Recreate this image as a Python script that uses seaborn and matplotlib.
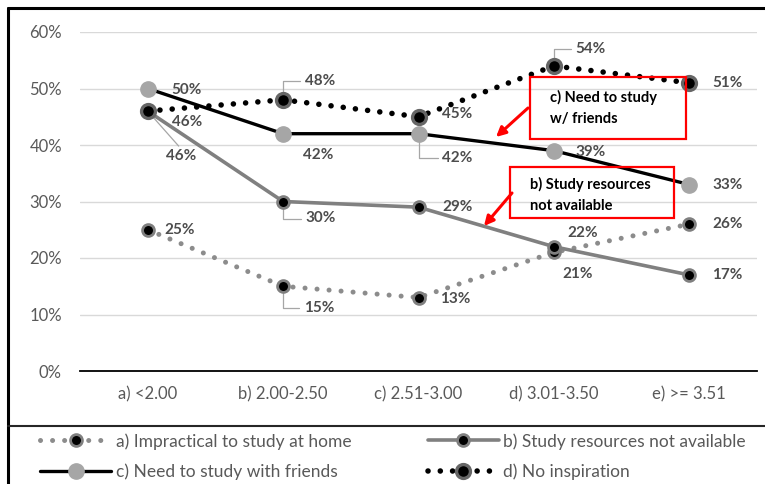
import matplotlib
matplotlib.use("Agg")
import matplotlib.pyplot as plt
from matplotlib.lines import Line2D
from matplotlib.patches import Rectangle
import seaborn as sns
import pandas as pd

# ---- data ----
categories = ["a) <2.00", "b) 2.00-2.50", "c) 2.51-3.00", "d) 3.01-3.50", "e) >= 3.51"]
impractical = [0.25, 0.15, 0.13, 0.21, 0.26]
resources = [0.46, 0.30, 0.29, 0.22, 0.17]
friends = [0.50, 0.42, 0.42, 0.39, 0.33]
inspiration = [0.46, 0.48, 0.45, 0.54, 0.51]
series_names = ["a) Impractical to study at home", "b) Study resources not available",
                "c) Need to study with friends", "d) No inspiration"]
yticks = [0.0, 0.1, 0.2, 0.3, 0.4, 0.5, 0.6]

sns.set_theme(style="white")
plt.rcParams["font.family"] = ["Lato", "DejaVu Sans"]

W, H = 765, 484
fig = plt.figure(figsize=(W / 100, H / 100), dpi=100)
ax = fig.add_axes([80 / W, 1 - 371 / H, (757 - 80) / W, (371 - 32) / H])

x = list(range(len(categories)))
TXT = "#595959"
LBL = "#4d4d4d"

styles = {
    series_names[0]: dict(color="#8c8c8c", lw=3.6, ls=(0, (0.01, 2.4)), mfc="black", mec="#7f7f7f",
                          ms=8.5, mew=2.0),
    series_names[1]: dict(color="#808080", lw=2.6, ls="-", mfc="black", mec="#7f7f7f", ms=8.5, mew=2.0),
    series_names[2]: dict(color="black", lw=2.4, ls="-", mfc="#a6a6a6", mec="#a6a6a6", ms=11, mew=1),
    series_names[3]: dict(color="black", lw=4.0, ls=(0, (0.01, 2.2)), mfc="black", mec="#666666",
                          ms=10, mew=2.4),
}
values = {series_names[0]: impractical, series_names[1]: resources,
          series_names[2]: friends, series_names[3]: inspiration}

order = [series_names[0], series_names[1], series_names[3], series_names[2]]
for name in order:
    st = styles[name]
    df = pd.DataFrame({"x": x, "y": values[name]})
    sns.lineplot(data=df, x="x", y="y", ax=ax, color=st["color"], lw=st["lw"], zorder=3)
    line = ax.lines[-1]
    line.set_linestyle(st["ls"])
    line.set_dash_capstyle("round")
    line.set_solid_capstyle("round")
    ax.plot(x, values[name], ls="none", marker="o", ms=st["ms"], mfc=st["mfc"], mec=st["mec"],
            mew=st["mew"], zorder=4)

# data labels: (dx, dy) offsets in pixels, leader flag
label_pos = {
    series_names[0]: [(32, 0, None), (36, -22, "down"), (37, -1, None), (24, -22, None), (38, 0, None)],
    series_names[1]: [(33, -45, "diag"), (38, -17, "down"), (39, 0, None), (29, 14, None), (38, 0, None)],
    series_names[2]: [(39, -1, None), (35, -21, None), (39, -24, "down"), (37, -1, None), (38, 0, None)],
    series_names[3]: [(39, -11, None), (37, 19, "up"), (39, 3, None), (37, 17, "up"), (38, 0, None)],
}
for name in series_names:
    for xi, v, (dx, dy, lead) in zip(x, values[name], label_pos[name]):
        ax.annotate(f"{round(v * 100):d}%", xy=(xi, v), xytext=(dx, dy), textcoords="offset pixels",
                    ha="center", va="center", fontsize=11, fontweight="bold", color=LBL, zorder=6)
        if lead in ("down", "up"):
            ax.annotate("", xy=(xi, v), xytext=(dx - 20, dy), textcoords="offset pixels",
                        arrowprops=dict(arrowstyle="-", color="#a6a6a6", lw=0.9, shrinkA=0, shrinkB=5,
                                        connectionstyle="angle,angleA=0,angleB=90,rad=0"), zorder=2)
        elif lead == "diag":
            ax.annotate("", xy=(xi, v), xytext=(dx - 2, dy + 10), textcoords="offset pixels",
                        arrowprops=dict(arrowstyle="-", color="#a6a6a6", lw=0.9, shrinkA=0, shrinkB=4),
                        zorder=2)

ax.set_xlim(-0.5, len(categories) - 0.5)
ax.set_ylim(0, 0.6)
ax.set_yticks(yticks)
ax.set_yticklabels([f"{int(round(t * 100))}%" for t in yticks])
ax.set_xticks(x)
ax.set_xticklabels(categories)
ax.set_xlabel("")
ax.set_ylabel("")
ax.tick_params(axis="both", length=0, labelsize=12, labelcolor=TXT)
ax.tick_params(axis="y", pad=13)
ax.tick_params(axis="x", pad=11)
ax.grid(axis="y", color="#d9d9d9", lw=1)
ax.grid(axis="x", visible=False)
for s in ["left", "right", "top"]:
    ax.spines[s].set_visible(False)
ax.spines["bottom"].set_color("black")
ax.spines["bottom"].set_linewidth(1.3)
ax.set_facecolor("none")


def fp(px, py):
    """figure pixel position measured from the top-left corner"""
    return (px / W, 1 - py / H)


# callout boxes with arrows
boxes = [
    ((530, 77, 156, 62), (550, 108), "c) Need to study\nw/ friends", (528, 108), (496, 137)),
    ((510, 167, 164, 51), (530, 195), "b) Study resources\nnot available", (512, 193), (484, 226)),
]
for (bx, by, bw, bh), (tx, ty), txt, a0, a1 in boxes:
    x0, y0 = fp(bx, by + bh)
    fig.add_artist(Rectangle((x0, y0), bw / W, bh / H, transform=fig.transFigure,
                             facecolor="none", edgecolor="#ff0000", lw=1.6, zorder=7))
    fig.text(*fp(tx, ty), txt, ha="left", va="center", fontsize=10.5, fontweight="bold",
             color="black", linespacing=1.6, zorder=8)
    fig.add_artist(plt.Annotation("", xy=fp(*a1), xytext=fp(*a0), xycoords="figure fraction",
                                  textcoords="figure fraction",
                                  arrowprops=dict(arrowstyle="-|>", color="#ff0000", lw=2.2,
                                                  mutation_scale=14, shrinkA=0, shrinkB=0)))

# legend (filled column by column, so a/c go in the first column, b/d in the second)
handles = {}
for name in series_names:
    st = styles[name]
    handles[name] = Line2D([], [], color=st["color"], lw=st["lw"], ls=st["ls"], marker="o",
                           ms=st["ms"], mfc=st["mfc"], mec=st["mec"], mew=st["mew"],
                           dash_capstyle="round")
leg_order = [series_names[0], series_names[2], series_names[1], series_names[3]]
fig.legend([handles[n] for n in leg_order], leg_order, ncol=2, loc="upper left",
           bbox_to_anchor=fp(40, 433), frameon=False, fontsize=12.5, labelcolor=TXT,
           handlelength=4.1, handletextpad=0.25, columnspacing=4.4, labelspacing=0.78,
           borderpad=0, borderaxespad=0, numpoints=1)

# outer frame and legend separator
fig.add_artist(Line2D([8 / W, 8 / W], [0, 1 - 8 / H], transform=fig.transFigure, color="black", lw=2.2))
fig.add_artist(Line2D([8 / W, 1], [1 - 8 / H, 1 - 8 / H], transform=fig.transFigure, color="black", lw=2.2))
fig.add_artist(Line2D([8 / W, 1], [1 - 426 / H, 1 - 426 / H], transform=fig.transFigure,
                      color="#262626", lw=1.5))

fig.savefig("out.png", dpi=100, facecolor="white")
